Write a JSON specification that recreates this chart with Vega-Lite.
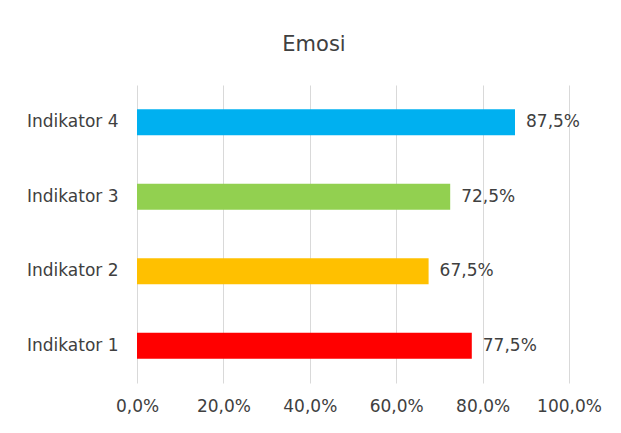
{
  "$schema": "https://vega.github.io/schema/vega-lite/v6.json",
  "autosize": "none",
  "padding": {"left": 137, "top": 85, "right": 52, "bottom": 50},
  "width": 432,
  "height": 298,
  "background": "white",
  "title": {"text": "Emosi", "fontSize": 21, "font": "DejaVu Sans", "fontWeight": "normal", "color": "#404040", "offset": 30, "dx": -39, "anchor": "middle"},
  "data": {"values": [
    {"indikator": "Indikator 4", "nilai": 0.875, "warna": "#00B0F0"},
    {"indikator": "Indikator 3", "nilai": 0.725, "warna": "#92D050"},
    {"indikator": "Indikator 2", "nilai": 0.675, "warna": "#FFC000"},
    {"indikator": "Indikator 1", "nilai": 0.775, "warna": "#FF0000"}
  ]},
  "transform": [{"calculate": "replace(format(datum.nilai, '.1%'), '.', ',')", "as": "label"}],
  "encoding": {
    "y": {"field": "indikator", "type": "nominal", "sort": null, "title": null,
      "axis": {"domain": false, "ticks": false, "labelPadding": 19, "labelFontSize": 17, "labelFont": "DejaVu Sans", "labelColor": "#404040", "grid": false}},
    "x": {"field": "nilai", "type": "quantitative", "scale": {"domain": [0, 1], "nice": false}, "title": null,
      "axis": {"values": [0, 0.2, 0.4, 0.6, 0.8, 1], "labelExpr": "replace(format(datum.value, '.1%'), '.', ',')", "domain": false, "ticks": false, "labelPadding": 15, "labelFontSize": 17, "labelFont": "DejaVu Sans", "labelColor": "#404040", "gridColor": "#D9D9D9", "labelFlush": false}}
  },
  "layer": [
    {"mark": {"type": "bar", "size": 26}, "encoding": {"color": {"field": "warna", "type": "nominal", "scale": null}}},
    {"mark": {"type": "text", "align": "left", "baseline": "middle", "dx": 11, "fontSize": 17, "font": "DejaVu Sans", "color": "#404040"}, "encoding": {"text": {"field": "label"}}}
  ],
  "config": {"view": {"stroke": null}}
}
